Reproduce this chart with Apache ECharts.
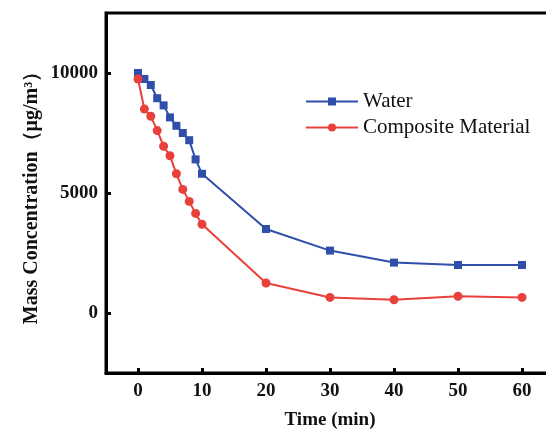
<!DOCTYPE html>
<html><head><meta charset="utf-8">
<script src="https://cdn.jsdelivr.net/npm/echarts@6/dist/echarts.min.js"></script>
<style>html,body{margin:0;padding:0;background:#fff}#c{width:546px;height:434px}</style>
</head><body><div id="c"></div>
<script>
const times = [0,1,2,3,4,5,6,7,8,9,10,20,30,40,50,60];
const water = [10000,9750,9500,8950,8650,8150,7800,7500,7200,6400,5800,3500,2600,2100,2000,2000];
const composite = [9750,8500,8200,7600,6950,6550,5800,5150,4650,4150,3700,1250,650,550,700,650];
const xTicks = [0,10,20,30,40,50,60];
const yTicks = [0,5000,10000];

const font = '"Liberation Serif","Times New Roman",serif';
const chart = echarts.init(document.getElementById('c'));
chart.setOption({
  animation:false,
  backgroundColor:'#fff',
  grid:{left:106,top:13,right:-8,bottom:61,outerBoundsMode:'none',containLabel:false,show:true,borderColor:'#000',borderWidth:3},
  legend:{
    left:300, top:86, orient:'vertical', itemWidth:52, itemHeight:10, itemGap:5,
    textStyle:{fontFamily:font,fontSize:21,color:'#111'},
    data:['Water','Composite Material']
  },
  xAxis:{
    type:'value', min:-5, max:65,
    axisLine:{onZero:false,lineStyle:{color:'#000',width:3}},
    axisTick:{inside:true,length:5,lineStyle:{width:3,color:'#000'},customValues:xTicks},
    axisLabel:{customValues:xTicks,formatter:v=>String(v),fontFamily:font,fontWeight:'bold',fontSize:19,color:'#111',margin:9},
    splitLine:{show:false},
    name:'Time (min)', nameLocation:'middle', nameGap:38, nameMoveOverlap:false,
    nameTextStyle:{fontFamily:font,fontWeight:'bold',fontSize:19,color:'#111'}
  },
  yAxis:{
    type:'value', min:-2500, max:12500,
    axisLine:{onZero:false,lineStyle:{color:'#000',width:3}},
    axisTick:{inside:true,length:5,lineStyle:{width:3,color:'#000'},customValues:yTicks},
    axisLabel:{customValues:yTicks,formatter:v=>String(v),fontFamily:font,fontWeight:'bold',fontSize:19,color:'#111',margin:8},
    splitLine:{show:false},
    name:'Mass Concentration（μg/m³）', nameLocation:'middle', nameGap:64, nameMoveOverlap:false,
    nameTextStyle:{fontFamily:font,fontWeight:'bold',fontSize:20,color:'#111'}
  },
  series:[
    {name:'Water',type:'line',data:times.map((t,i)=>[t,water[i]]),
     symbol:'rect',symbolSize:8,color:'#2f4faa',lineStyle:{width:2,color:'#2f4faa'},itemStyle:{color:'#2f4faa'}},
    {name:'Composite Material',type:'line',data:times.map((t,i)=>[t,composite[i]]),
     symbol:'circle',symbolSize:9,color:'#e8413c',lineStyle:{width:2,color:'#e8413c'},itemStyle:{color:'#e8413c'}}
  ]
});
</script></body></html>
